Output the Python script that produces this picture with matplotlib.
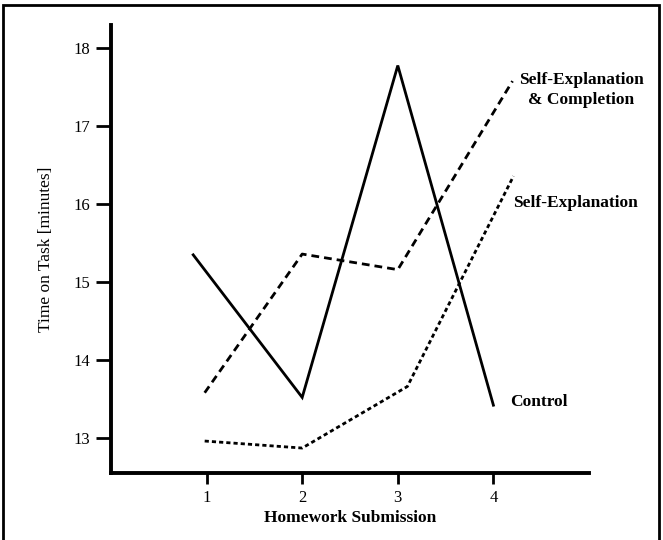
import matplotlib.pyplot as plt
from matplotlib import rcParams
from matplotlib.patches import Rectangle

rcParams['font.family'] = 'Liberation Serif'

# Data
submissions = [1, 2, 3, 4]
control_x = [0.86, 2.0, 3.0, 4.0]
control = [15.35, 13.52, 17.78, 13.42]
sec_x = [0.98, 2.0, 3.0, 4.2]
self_expl_compl = [13.58, 15.36, 15.16, 17.58]
se_x = [0.98, 2.0, 3.1, 4.21]
self_expl = [12.96, 12.87, 13.66, 16.36]
yticks = [13, 14, 15, 16, 17, 18]

fig = plt.figure(figsize=(6.63, 5.4), dpi=100)
ax = fig.add_axes([0.1674, 0.1241, 0.8884 - 0.1674, 0.9537 - 0.1241])

ax.plot(control_x, control, color='black', linewidth=2.0, solid_joinstyle='miter')
ax.plot(sec_x, self_expl_compl, color='black', linewidth=2.0, dashes=(2.8, 1.8))
ax.plot(se_x, self_expl, color='black', linewidth=2.0, dashes=(1.5, 1.1))

# Line labels
ax.text(4.92, 17.47, 'Self-Explanation\n& Completion', ha='center', va='center',
        fontsize=12.5, fontweight='bold', linespacing=1.35, clip_on=False)
ax.text(4.21, 16.02, 'Self-Explanation', ha='left', va='center',
        fontsize=12.5, fontweight='bold', clip_on=False)
ax.text(4.18, 13.46, 'Control', ha='left', va='center',
        fontsize=12.5, fontweight='bold', clip_on=False)

ax.set_xlim(0, 5)
ax.set_ylim(12.55, 18.3)
ax.set_xticks(submissions)
ax.set_yticks(yticks)
ax.tick_params(axis='y', direction='out', length=11, width=2, labelsize=12, pad=4)
ax.tick_params(axis='x', direction='out', length=8, width=2, labelsize=12, pad=4)
for s in ['top', 'right']:
    ax.spines[s].set_visible(False)
for s in ['left', 'bottom']:
    ax.spines[s].set_linewidth(2.8)
    ax.spines[s].set_capstyle('projecting')

ax.set_xlabel('Homework Submission', fontsize=12.5, fontweight='bold', labelpad=3)
ax.set_ylabel('Time on Task [minutes]', fontsize=12.5, labelpad=14)

# Outer frame around the figure
fig.patches.append(Rectangle((3 / 663, -0.05), (659 - 3) / 663, 1.05 - 5 / 540,
                             transform=fig.transFigure, fill=False,
                             edgecolor='black', linewidth=2.0))

fig.savefig('out.png', dpi=100)
